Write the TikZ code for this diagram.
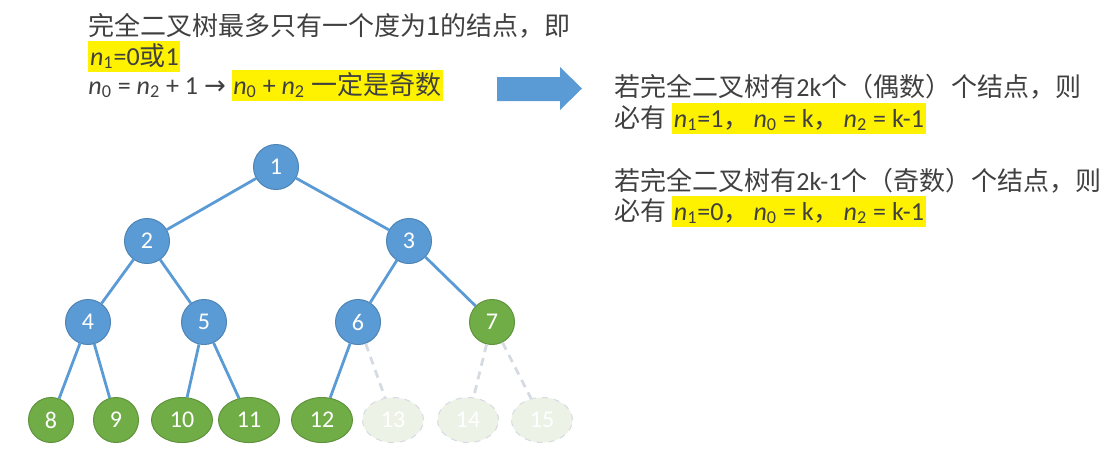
\documentclass[tikz,border=0pt]{standalone}
\usepackage{fontspec}
\setmainfont{Carlito}
\newfontfamily\cjk{Noto Sans CJK SC}
\newfontfamily\symfont{DejaVu Sans}
\usetikzlibrary{shapes.geometric}

\definecolor{knotenblau}{HTML}{5B9BD5}
\definecolor{knotengruen}{HTML}{70AD47}
\definecolor{textgrau}{HTML}{404040}
\definecolor{leergruen}{HTML}{EDF2E7}
\definecolor{leerrand}{HTML}{D5DBE3}

\newcommand{\nn}[1]{\textit{n}\textsubscript{#1}}
\newcommand{\hl}[1]{{\setlength{\fboxsep}{0.8pt}\colorbox{yellow}{\rule[-2.7pt]{0pt}{13.9pt}#1}}}

\tikzset{
    bl/.style={circle, fill=knotenblau, draw=knotenblau!85!black, line width=0.5pt,
        minimum size=22.5pt, inner sep=0pt, text=white, font=\fontsize{12}{12}\selectfont},
    gr/.style={bl, fill=knotengruen, draw=knotengruen!85!black},
    grell/.style={gr, ellipse, minimum width=30.5pt, minimum height=22.5pt},
    leer/.style={grell, fill=leergruen, draw=leerrand, dashed},
    kante/.style={knotenblau, line width=1.4pt},
    leerkante/.style={leerrand, line width=1.4pt, dash pattern=on 4pt off 3pt},
    zeile/.style={anchor=base west, inner sep=0pt, text=textgrau, font=\fontsize{13}{15}\selectfont},
}

\begin{document}
\begin{tikzpicture}[x=0.5pt, y=-0.5pt]
            \useasboundingbox (0,0) rectangle (1111,463);
            % Text links:
            \node[zeile] (z1) at (88,35) {{\cjk 完全二叉树最多只有一个度为1的结点，即}};
            \node[zeile] (z2) at (88,65) {\hl{\nn{1}=0{\cjk 或}1}};
            \node[zeile] (z3) at (88,94) {\nn{0} = \nn{2} + 1 {\symfont →} \hl{\nn{0} + \nn{2} {\cjk 一定是奇数}}};
            % Pfeil:
            \fill[knotenblau] (497,77) -- (560,77) -- (560,67) -- (582,88.5)
                -- (560,110) -- (560,101) -- (497,101) -- cycle;
            % Text rechts:
            \node[zeile] (r1) at (614,96) {{\cjk 若完全二叉树有}2k{\cjk 个（偶数）个结点，则}};
            \node[zeile] (r2) at (614,127) {{\cjk 必有} \hl{\nn{1}=1{\cjk ，}\hspace{2pt}\nn{0} = k{\cjk ，}\hspace{2pt}\nn{2} = k-1}};
            \node[zeile] (r3) at (614,190) {{\cjk 若完全二叉树有}2k-1{\cjk 个（奇数）个结点，则}};
            \node[zeile] (r4) at (614,220) {{\cjk 必有} \hl{\nn{1}=0{\cjk ，}\hspace{2pt}\nn{0} = k{\cjk ，}\hspace{2pt}\nn{2} = k-1}};
            % obere Knoten:
            \node[bl] (k1) at (276,167) {1};
            \node[bl] (k2) at (147,241) {2};
            \node[bl] (k3) at (409,241) {3};
            \node[bl] (k4) at (88,322) {4};
            \node[bl] (k5) at (204,322) {5};
            \node[bl] (k6) at (358,322) {6};
            \node[gr] (k7) at (492,322) {7};
            % Blaetter:
            \node[gr] (k8) at (51,420) {8};
            \node[gr] (k9) at (116,420) {9};
            \node[grell] (k10) at (182,420) {10};
            \node[grell] (k11) at (249,420) {11};
            \node[grell] (k12) at (322,420) {12};
            \node[leer] (k13) at (393,420) {13};
            \node[leer] (k14) at (468,420) {14};
            \node[leer] (k15) at (542,420) {15};
            % Kanten:
            \draw[kante] (k1) -- (k2);
            \draw[kante] (k1) -- (k3);
            \draw[kante] (k2) -- (k4);
            \draw[kante] (k2) -- (k5);
            \draw[kante] (k3) -- (k6);
            \draw[kante] (k3) -- (k7);
            \draw[kante] (k4) -- (k8);
            \draw[kante] (k4) -- (k9);
            \draw[kante] (k5) -- (k10);
            \draw[kante] (k5) -- (k11);
            \draw[kante] (k6) -- (k12);
            \draw[leerkante] (k6) -- (k13);
            \draw[leerkante] (k7) -- (k14);
            \draw[leerkante] (k7) -- (k15);
\end{tikzpicture}
\end{document}
